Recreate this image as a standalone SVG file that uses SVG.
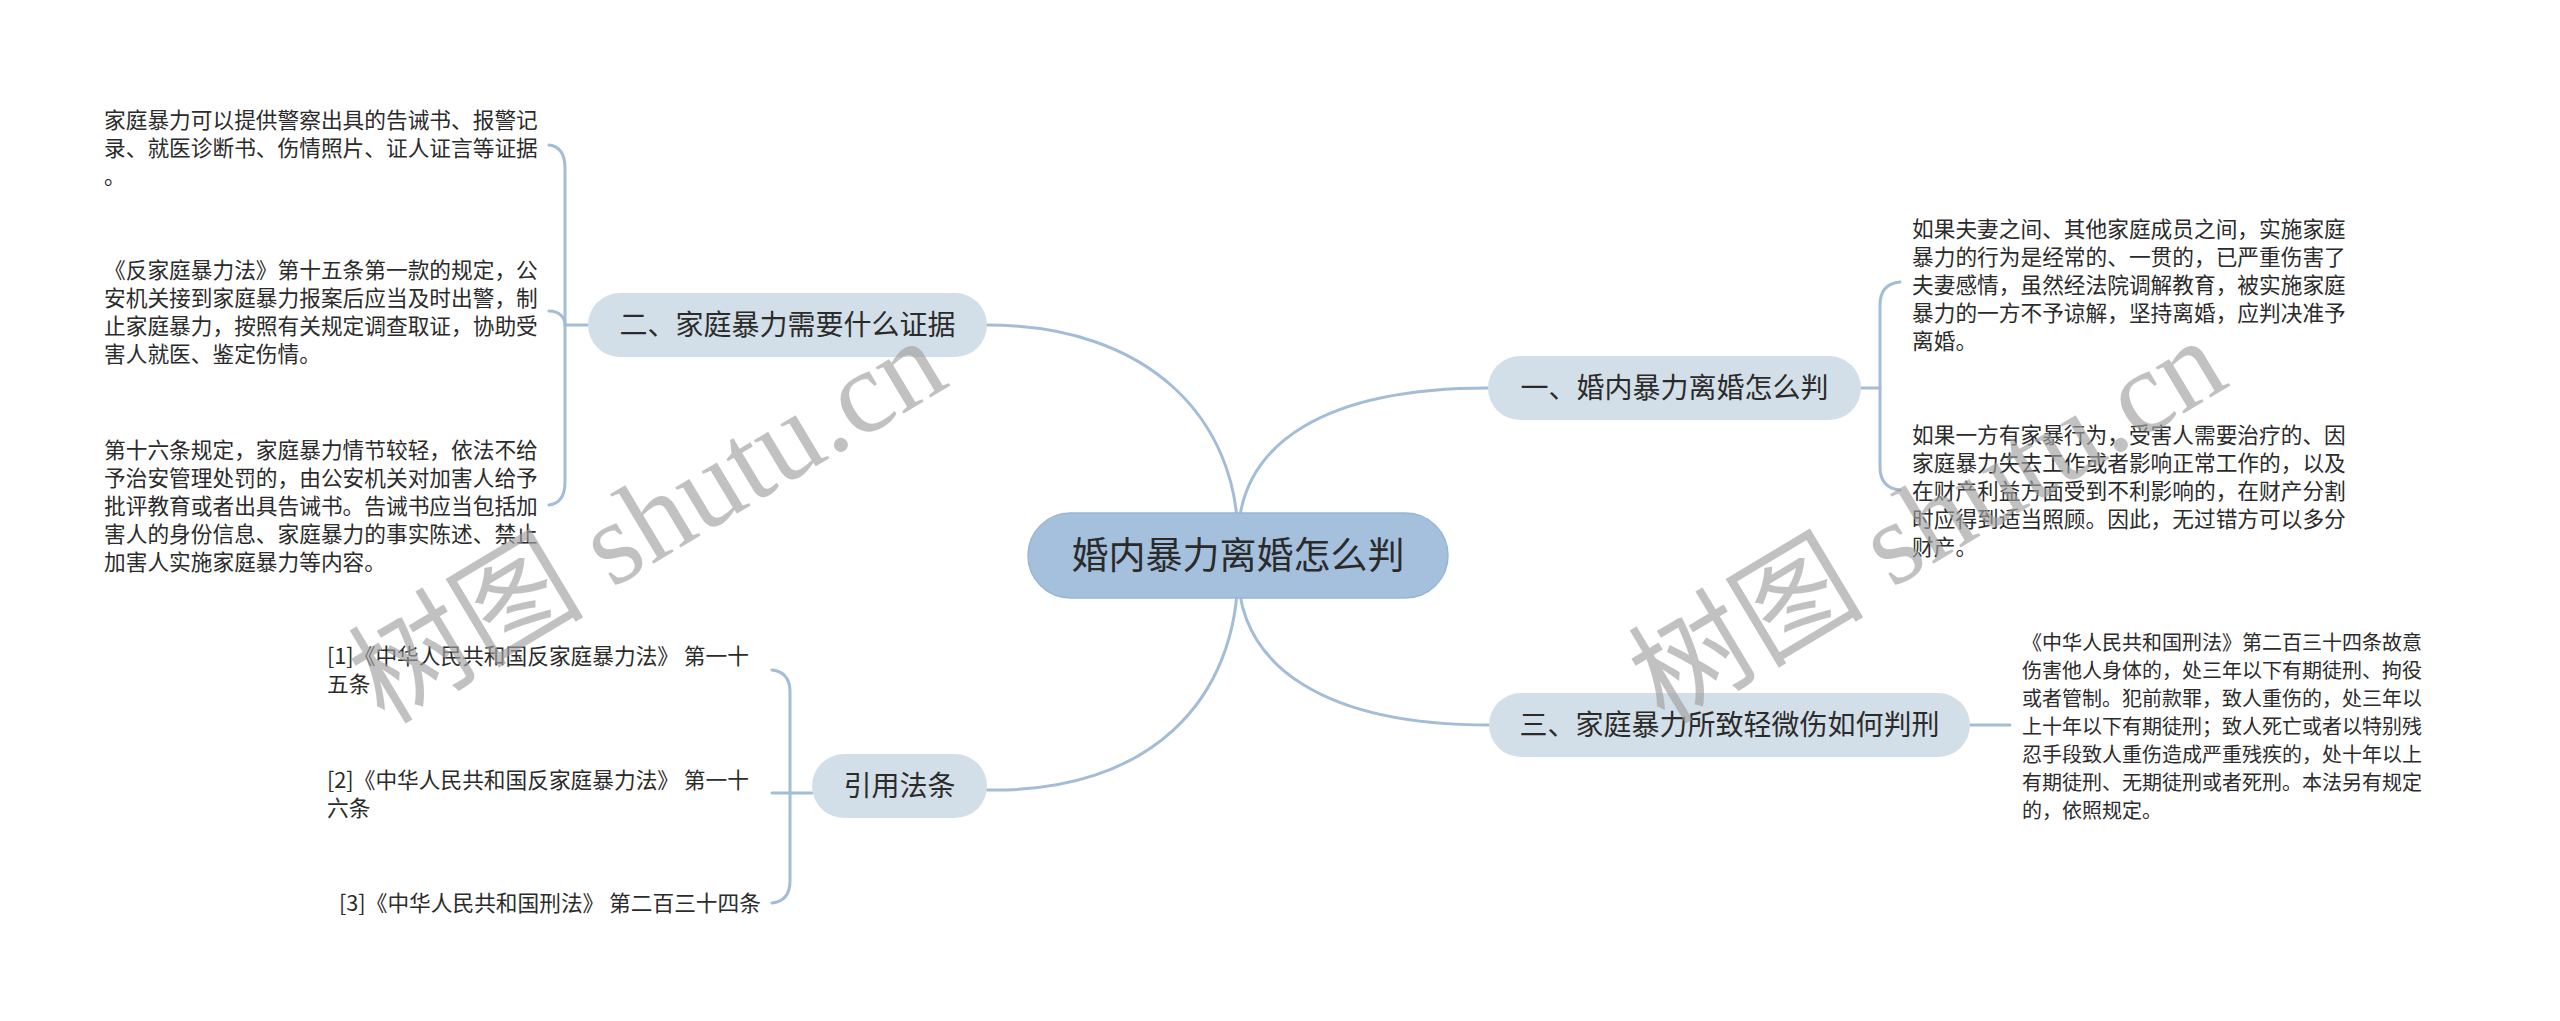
<svg xmlns="http://www.w3.org/2000/svg" width="2560" height="1021" viewBox="0 0 2560 1021">
<style>
.bg{fill:#ffffff}
.ln{fill:none;stroke:#a3bdd6;stroke-width:3;stroke-linecap:round}
.root{fill:#a4c0dc;stroke:#98b6d3;stroke-width:1.5}
.sub{fill:#d3dfe8}
.t{font-family:"Noto Sans CJK SC","Noto Sans",sans-serif;fill:#2b2b2b}
.rt{font-size:37px;text-anchor:middle}
.st{font-size:28px;text-anchor:middle}
.lf{font-size:21.7px}
.lf2{font-size:20px}
.wm{font-family:"Liberation Serif","Noto Sans CJK SC",serif;font-size:118px;fill:#a0a0a0;fill-opacity:0.65;text-anchor:middle}
</style>
<rect class="bg" x="0" y="0" width="2560" height="1021"/>
<g id="connectors">
<path class="ln" d="M1238,540 C1238,420 1150,325 987,325"/>
<path class="ln" d="M1238,540 C1238,440 1330,388 1488,388"/>
<path class="ln" d="M1238,570 C1238,700 1150,793 987,790"/>
<path class="ln" d="M1238,570 C1238,670 1330,725 1489,725"/>
<path class="ln" d="M549,145 Q565,147 565,168 L565,482 Q565,503 549,505"/>
<path class="ln" d="M549,311 C560,311 565,318 565,325 L588,325"/>
<path class="ln" d="M1900,282 Q1880,284 1880,305 L1880,467 Q1880,488 1900,490"/>
<path class="ln" d="M1861,388 L1880,388"/>
<path class="ln" d="M772,670 Q790,672 790,692 L790,881 Q790,901 772,903"/>
<path class="ln" d="M772,793 L812,793"/>
<path class="ln" d="M1970,725 L2010,725"/>
</g>
<g id="root">
<rect class="root" x="1028" y="513" width="420" height="85" rx="42.5"/>
<text class="t rt" x="1238" y="569">婚内暴力离婚怎么判</text>
</g>
<g id="node-1">
<rect class="sub" x="1488" y="356" width="373" height="64" rx="32"/>
<text class="t st" x="1674.5" y="398">一、婚内暴力离婚怎么判</text>
</g>
<g id="node-2">
<rect class="sub" x="588" y="293" width="399" height="64" rx="32"/>
<text class="t st" x="787.5" y="335">二、家庭暴力需要什么证据</text>
</g>
<g id="node-3">
<rect class="sub" x="1489" y="693" width="481" height="64" rx="32"/>
<text class="t st" x="1729.5" y="735">三、家庭暴力所致轻微伤如何判刑</text>
</g>
<g id="node-4">
<rect class="sub" x="812" y="754" width="175" height="64" rx="32"/>
<text class="t st" x="899.5" y="796">引用法条</text>
</g>
<g id="leaf-2-1">
<text class="t lf" x="104"><tspan x="104" y="128">家庭暴力可以提供警察出具的告诫书、报警记</tspan><tspan x="104" y="156">录、就医诊断书、伤情照片、证人证言等证据</tspan><tspan x="104" y="184">。</tspan></text>
</g>
<g id="leaf-2-2">
<text class="t lf" x="104"><tspan x="104" y="278">《反家庭暴力法》第十五条第一款的规定，公</tspan><tspan x="104" y="306">安机关接到家庭暴力报案后应当及时出警，制</tspan><tspan x="104" y="334">止家庭暴力，按照有关规定调查取证，协助受</tspan><tspan x="104" y="362">害人就医、鉴定伤情。</tspan></text>
</g>
<g id="leaf-2-3">
<text class="t lf" x="104"><tspan x="104" y="458">第十六条规定，家庭暴力情节较轻，依法不给</tspan><tspan x="104" y="486">予治安管理处罚的，由公安机关对加害人给予</tspan><tspan x="104" y="514">批评教育或者出具告诫书。告诫书应当包括加</tspan><tspan x="104" y="542">害人的身份信息、家庭暴力的事实陈述、禁止</tspan><tspan x="104" y="570">加害人实施家庭暴力等内容。</tspan></text>
</g>
<g id="leaf-1-1">
<text class="t lf" x="1912"><tspan x="1912" y="237">如果夫妻之间、其他家庭成员之间，实施家庭</tspan><tspan x="1912" y="265">暴力的行为是经常的、一贯的，已严重伤害了</tspan><tspan x="1912" y="293">夫妻感情，虽然经法院调解教育，被实施家庭</tspan><tspan x="1912" y="321">暴力的一方不予谅解，坚持离婚，应判决准予</tspan><tspan x="1912" y="349">离婚。</tspan></text>
</g>
<g id="leaf-1-2">
<text class="t lf" x="1912"><tspan x="1912" y="443">如果一方有家暴行为，受害人需要治疗的、因</tspan><tspan x="1912" y="471">家庭暴力失去工作或者影响正常工作的，以及</tspan><tspan x="1912" y="499">在财产利益方面受到不利影响的，在财产分割</tspan><tspan x="1912" y="527">时应得到适当照顾。因此，无过错方可以多分</tspan><tspan x="1912" y="555">财产。</tspan></text>
</g>
<g id="leaf-3-1">
<text class="t lf2" x="2022"><tspan x="2022" y="650">《中华人民共和国刑法》第二百三十四条故意</tspan><tspan x="2022" y="678">伤害他人身体的，处三年以下有期徒刑、拘役</tspan><tspan x="2022" y="706">或者管制。犯前款罪，致人重伤的，处三年以</tspan><tspan x="2022" y="734">上十年以下有期徒刑；致人死亡或者以特别残</tspan><tspan x="2022" y="762">忍手段致人重伤造成严重残疾的，处十年以上</tspan><tspan x="2022" y="790">有期徒刑、无期徒刑或者死刑。本法另有规定</tspan><tspan x="2022" y="818">的，依照规定。</tspan></text>
</g>
<g id="leaf-4-1">
<text class="t lf" x="327"><tspan x="327" y="664">[1]《中华人民共和国反家庭暴力法》 第一十</tspan><tspan x="327" y="692">五条</tspan></text>
</g>
<g id="leaf-4-2">
<text class="t lf" x="327"><tspan x="327" y="788">[2]《中华人民共和国反家庭暴力法》 第一十</tspan><tspan x="327" y="816">六条</tspan></text>
</g>
<g id="leaf-4-3">
<text class="t lf" x="339" y="911">[3]《中华人民共和国刑法》 第二百三十四条</text>
</g>
<g id="watermark">
<text class="wm" x="650" y="560" transform="rotate(-31 650 525)">树图 shutu.cn</text>
<text class="wm" x="1930" y="560" transform="rotate(-31 1930 525)">树图 shutu.cn</text>
</g>
</svg>
